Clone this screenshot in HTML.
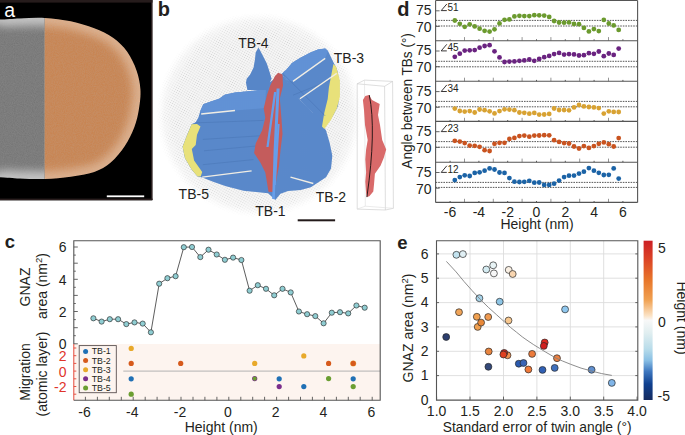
<!DOCTYPE html>
<html><head><meta charset="utf-8"><style>html,body{margin:0;padding:0;background:#fff;}svg{display:block;}</style></head>
<body><svg width="685" height="435" viewBox="0 0 685 435">
<rect width="685" height="435" fill="#fff"/>
<rect x="0" y="0" width="152.2" height="200.3" fill="#000"/>
<rect x="0" y="0" width="152.5" height="2.6" fill="#261c1c"/>
<rect x="151" y="0" width="1.5" height="200" fill="#2a1e1e"/>
<rect x="0" y="198.6" width="152.5" height="1.6" fill="#2a1e1e"/>
<defs><clipPath id="pa"><path d="M-40.0,20.5 C-33.7,-5.7 -12.0,20.0 -2.0,19.6 C8.0,19.2 12.2,18.7 20.0,18.4 C27.8,18.1 36.3,17.4 44.8,17.9 C53.2,18.4 62.5,19.5 70.7,21.2 C78.9,22.9 87.2,25.6 94.2,28.3 C101.2,31.1 107.5,33.8 113.0,37.7 C118.5,41.6 123.3,46.3 127.2,51.8 C131.1,57.3 134.4,64.4 136.6,70.7 C138.8,77.0 140.0,83.2 140.4,89.5 C140.8,95.8 140.0,102.1 139.0,108.4 C138.0,114.7 136.7,120.9 134.3,127.2 C131.9,133.5 128.7,140.1 124.8,146.0 C120.9,151.9 115.8,158.2 110.7,162.5 C105.6,166.8 100.9,169.6 94.2,172.0 C87.5,174.4 78.9,175.5 70.7,176.7 C62.5,177.9 53.2,178.7 44.8,179.0 C36.3,179.3 27.8,178.8 20.0,178.5 C12.2,178.2 8.0,177.5 -2.0,177.2 C-12.0,176.9 -33.7,202.6 -40.0,176.5 C-46.3,150.4 -46.3,46.7 -40.0,20.5 Z"/></clipPath>
<clipPath id="pag"><rect x="-5" y="0" width="49.8" height="200"/></clipPath>
<clipPath id="pao"><rect x="44.8" y="0" width="110" height="200"/></clipPath>
<filter id="bl5" x="-0.2" y="-0.2" width="1.4" height="1.4"><feGaussianBlur stdDeviation="4.5"/></filter>
<filter id="bl1" x="-0.1" y="-0.1" width="1.2" height="1.2"><feGaussianBlur stdDeviation="0.7"/></filter>
<filter id="noise" x="0" y="0" width="1" height="1"><feTurbulence type="fractalNoise" baseFrequency="0.9 0.9" numOctaves="2" seed="3"/><feColorMatrix type="matrix" values="0 0 0 0 0.5  0 0 0 0 0.5  0 0 0 0 0.5  1.2 0 0 0 -0.1"/></filter>
</defs>
<g filter="url(#bl1)"><g clip-path="url(#pa)">
<g clip-path="url(#pag)"><rect x="-5" y="10" width="60" height="180" fill="#c4c4c4"/><path d="M-33.9,25.7 C-27.9,1.6 -7.0,26.2 2.4,26.3 C11.9,26.3 15.7,25.9 22.8,25.9 C30.0,25.8 37.7,25.4 45.3,25.9 C53.0,26.4 61.2,27.4 68.6,28.9 C76.1,30.5 83.5,32.7 89.9,35.1 C96.3,37.4 102.2,39.8 107.2,43.2 C112.3,46.7 116.7,50.9 120.3,55.9 C124.0,60.9 127.0,67.4 129.0,73.1 C131.0,78.8 132.1,84.5 132.4,90.2 C132.8,96.0 132.0,101.7 131.1,107.5 C130.1,113.2 128.9,118.9 126.7,124.6 C124.6,130.3 121.7,136.3 118.1,141.7 C114.5,147.0 109.9,152.8 105.2,156.7 C100.6,160.6 96.2,163.1 90.1,165.1 C84.0,167.2 76.1,168.0 68.7,169.0 C61.2,169.9 53.0,170.7 45.3,171.0 C37.7,171.4 29.9,171.1 22.8,171.0 C15.6,170.9 11.9,170.5 2.4,170.5 C-7.1,170.6 -27.9,195.4 -34.0,171.2 C-40.0,147.1 -40.0,49.9 -33.9,25.7 Z" fill="#747474" filter="url(#bl5)"/></g>
<g clip-path="url(#pao)"><rect x="40" y="10" width="110" height="180" fill="#dfae88"/><path d="M-33.9,25.7 C-27.9,1.6 -7.0,26.2 2.4,26.3 C11.9,26.3 15.7,25.9 22.8,25.9 C30.0,25.8 37.7,25.4 45.3,25.9 C53.0,26.4 61.2,27.4 68.6,28.9 C76.1,30.5 83.5,32.7 89.9,35.1 C96.3,37.4 102.2,39.8 107.2,43.2 C112.3,46.7 116.7,50.9 120.3,55.9 C124.0,60.9 127.0,67.4 129.0,73.1 C131.0,78.8 132.1,84.5 132.4,90.2 C132.8,96.0 132.0,101.7 131.1,107.5 C130.1,113.2 128.9,118.9 126.7,124.6 C124.6,130.3 121.7,136.3 118.1,141.7 C114.5,147.0 109.9,152.8 105.2,156.7 C100.6,160.6 96.2,163.1 90.1,165.1 C84.0,167.2 76.1,168.0 68.7,169.0 C61.2,169.9 53.0,170.7 45.3,171.0 C37.7,171.4 29.9,171.1 22.8,171.0 C15.6,170.9 11.9,170.5 2.4,170.5 C-7.1,170.6 -27.9,195.4 -34.0,171.2 C-40.0,147.1 -40.0,49.9 -33.9,25.7 Z" fill="#c9834f" filter="url(#bl5)"/></g>
<rect x="0" y="10" width="150" height="180" filter="url(#noise)" opacity="0.22"/>
</g></g>
<text x="4.3" y="16.5" font-family="Liberation Sans, sans-serif" font-size="19.5" fill="#fff">a</text>
<rect x="106.8" y="195.4" width="37.4" height="1.8" fill="#fff"/>
<text x="157.8" y="16.3" font-family="Liberation Sans, sans-serif" font-size="20" font-weight="bold" fill="#231f20">b</text>
<defs><radialGradient id="cloud" gradientUnits="userSpaceOnUse" cx="259" cy="115" r="103"><stop offset="0" stop-color="#eeeeee"/><stop offset="0.8" stop-color="#efefef"/><stop offset="0.92" stop-color="#f4f4f4"/><stop offset="1" stop-color="#fff" stop-opacity="0"/></radialGradient></defs>
<defs><pattern id="speck" width="2.3" height="2.3" patternUnits="userSpaceOnUse" patternTransform="rotate(30)"><rect width="2.3" height="2.3" fill="#fff" fill-opacity="0"/><circle cx="1.15" cy="1.15" r="0.62" fill="#9a9a9a"/></pattern><radialGradient id="cmask" gradientUnits="userSpaceOnUse" cx="259" cy="115" r="103"><stop offset="0" stop-color="#fff" stop-opacity="0.75"/><stop offset="0.85" stop-color="#fff" stop-opacity="0.6"/><stop offset="1" stop-color="#fff" stop-opacity="0"/></radialGradient><mask id="cm"><circle cx="259" cy="115" r="103" fill="url(#cmask)"/></mask></defs>
<circle cx="259" cy="115" r="103" fill="url(#cloud)" opacity="0.55"/>
<rect x="150" y="5" width="218" height="220" fill="url(#speck)" mask="url(#cm)" opacity="0.6"/>
<path d="M200.5,110.5 L203.3,104.3 L210.9,101.6 L219.1,98.8 L224.7,94.7 L235,92.6 L245.9,91.5 L257.4,90.3 L266.6,84.6 L281.7,73.7 L300,100 L308.2,107.6 L318.4,119 L326,130.4 L329.7,143 L332.3,155.7 L331,168.4 L326,177.2 L318.4,182.3 L310.8,187.3 L300.6,189.9 L288,191.1 L280.4,193.7 L275.3,200 L268.1,193.3 L261.1,192.4 L243.6,190.7 L226.1,186.3 L213.8,181.9 L202.4,177.5 L197.6,176.6 L191.8,169.7 L185,158.2 L182.6,146.7 L186.1,137.5 L191.6,124.3 L195.7,122.2 L198.4,117.4 Z" fill="#5888cb"/>
<path d="M200.5,110.5 L203.3,104.3 L210.9,101.6 L219.1,98.8 L224.7,94.7 L235,92.6 L245.9,91.5 L257.4,90.3 L266,89 L265,108 L235,110.5 L201.2,114 Z" fill="#6193d8"/>
<path d="M281.7,73.7 L286.1,69.9 L292,63 L300,58 L310.5,52.5 L318,49.5 L325.2,48.6 L328,51 L331.1,57.6 L333.4,62.2 L336.9,69.1 L339.2,80.6 L339.2,94.4 L338,105.9 L333.4,115.1 L326.6,124.3 L322,128.9 L312,112 L295,95 Z" fill="#5888cb"/>
<path d="M283.5,72 L286.1,69.9 L292,63 L300,58 L310.5,52.5 L318,49.5 L325.2,48.6 L328,51 L325.2,58.4 L293,81.4 L286,80 Z" fill="#6193d8"/>
<path d="M258.5,47.6 L262.6,55.2 L266.8,63.5 L269.5,71.8 L271.6,78.7 L270.2,81.4 L268,90 L247.4,90 L246,82.8 L246.7,78.7 L250.2,74.5 L253.6,67.6 L255,59.3 L255.7,52.4 Z" fill="#5585c8"/>
<defs><pattern id="vox" width="1.9" height="1.9" patternUnits="userSpaceOnUse"><rect width="1.9" height="1.9" fill="#2c4f86"/><circle cx="0.95" cy="0.95" r="0.85" fill="#7aa6e6"/></pattern><clipPath id="slabclip"><path d="M200.5,110.5 L203.3,104.3 L210.9,101.6 L219.1,98.8 L224.7,94.7 L235,92.6 L245.9,91.5 L257.4,90.3 L266.6,84.6 L281.7,73.7 L300,100 L308.2,107.6 L318.4,119 L326,130.4 L329.7,143 L332.3,155.7 L331,168.4 L326,177.2 L318.4,182.3 L310.8,187.3 L300.6,189.9 L288,191.1 L280.4,193.7 L275.3,200 L268.1,193.3 L261.1,192.4 L243.6,190.7 L226.1,186.3 L213.8,181.9 L202.4,177.5 L197.6,176.6 L191.8,169.7 L185,158.2 L182.6,146.7 L186.1,137.5 L191.6,124.3 L195.7,122.2 L198.4,117.4 Z"/><path d="M281.7,73.7 L286.1,69.9 L292,63 L300,58 L310.5,52.5 L318,49.5 L325.2,48.6 L328,51 L331.1,57.6 L333.4,62.2 L336.9,69.1 L339.2,80.6 L339.2,94.4 L338,105.9 L333.4,115.1 L326.6,124.3 L322,128.9 L312,112 L295,95 Z"/><path d="M258.5,47.6 L262.6,55.2 L266.8,63.5 L269.5,71.8 L271.6,78.7 L270.2,81.4 L268,90 L247.4,90 L246,82.8 L246.7,78.7 L250.2,74.5 L253.6,67.6 L255,59.3 L255.7,52.4 Z"/></clipPath></defs>
<rect x="180" y="45" width="162" height="160" fill="url(#vox)" clip-path="url(#slabclip)" opacity="0.16"/>
<path d="M191.6,124.3 L186.1,137.5 L182.6,146.7 L185,158.2 L191.8,169.7 L197.6,176.6 L200.7,176.6 L202.2,172 L194.1,160.5 L191.8,149 L195.7,145 L197,134.7 L200.5,126.4 L197,124 Z" fill="#e8e17a"/>
<path d="M333.4,64 L336.2,66.8 L339.9,80.6 L339.9,96.7 L336.9,108.2 L331.1,119.7 L324.3,128.9 L322,126.6 L324.3,112.8 L327.7,99 L328.9,87.5 L331.1,76 Z" fill="#e8e17a"/>
<line x1="195.2" y1="122.9" x2="263.5" y2="120.4" stroke="#4a76b6" stroke-width="0.9" opacity="0.6"/>
<line x1="202.8" y1="139.4" x2="263.5" y2="135.6" stroke="#4a76b6" stroke-width="0.9" opacity="0.6"/>
<line x1="204" y1="150.8" x2="256" y2="146" stroke="#4a76b6" stroke-width="0.9" opacity="0.6"/>
<line x1="202.8" y1="164.7" x2="253.4" y2="159.6" stroke="#4a76b6" stroke-width="0.9" opacity="0.6"/>
<line x1="283.8" y1="74.5" x2="325.2" y2="115.9" stroke="#4a76b6" stroke-width="0.9" opacity="0.6"/>
<line x1="293" y1="95.2" x2="330" y2="80" stroke="#4a76b6" stroke-width="0.9" opacity="0.6"/>
<path d="M278.2,72.8 L275,76 L270.1,85.7 L266.9,95.3 L263.7,108.2 L265.3,117.8 L262.1,130.6 L255.7,143.5 L254.1,153.1 L260.5,162.8 L265.3,172.4 L266.9,182 L268.5,191.7 L273,192 L276,182 L279,166 L280.5,150 L282.5,134 L281.4,117.8 L279.8,98.5 L283,85.7 L282.5,74.5 Z" fill="#c45c5c"/>
<path d="M276.6,88.5 L279.6,88.5 L276.6,150 L274.8,199 L272.2,199 L273.6,150 Z" fill="#669eea"/>
<path d="M274,92 L276.4,92 L268.6,147 L266.4,147 Z" fill="#669eea"/>
<path d="M277.6,124 L279.6,124 L275.8,185 L273.8,185 Z" fill="#669eea"/>
<line x1="201.2" y1="114" x2="235" y2="110.5" stroke="#f0ede4" stroke-width="1.3"/>
<line x1="202.2" y1="177.2" x2="251.6" y2="170.8" stroke="#f0ede4" stroke-width="1.3"/>
<line x1="293" y1="81.4" x2="325.2" y2="58.4" stroke="#f0ede4" stroke-width="1.3"/>
<line x1="299.9" y1="98.7" x2="336.7" y2="73.4" stroke="#f0ede4" stroke-width="1.3"/>
<line x1="290.5" y1="177.2" x2="313.3" y2="183.5" stroke="#f0ede4" stroke-width="1.3"/>
<text x="238.3" y="47.9" font-family="Liberation Sans, sans-serif" font-size="14" fill="#231f20">TB-4</text>
<text x="333.8" y="63.2" font-family="Liberation Sans, sans-serif" font-size="14" fill="#231f20">TB-3</text>
<text x="178.6" y="198.9" font-family="Liberation Sans, sans-serif" font-size="14" fill="#231f20">TB-5</text>
<text x="255.3" y="215.7" font-family="Liberation Sans, sans-serif" font-size="14" fill="#231f20">TB-1</text>
<text x="315.8" y="202.4" font-family="Liberation Sans, sans-serif" font-size="14" fill="#231f20">TB-2</text>
<g fill="none" stroke="#c8c8c8" stroke-width="0.6"><path d="M357.2,83.8 L364.5,80.1 L392.6,81.4 L384.6,86.3 Z M357.2,83.8 L357.2,209.1 L385.4,210 L393.4,208.3 L392.6,81.4 M384.6,86.3 L385.4,210"/><path d="M364.5,80.1 L365.3,206.2 L357.2,209.1 M365.3,206.2 L393.4,208.3" stroke="#dedede"/></g>
<path d="M365.3,95.9 L369,95 L372,100 L379.7,104 L378,115 L380,125 L382.2,140 L386.2,149.6 L383.8,157.7 L380.5,165.7 L374.9,173.8 L374.1,183.4 L373.3,191.4 L369.3,196.3 L366.9,197.1 L366.1,193 L365.3,181.8 L366.1,172.2 L365.3,159.3 L366.1,149.6 L367.7,140 L365,125 L364,110 L362.9,100 Z" fill="#d96a6a"/>
<path d="M369.3,95.1 Q376.5,130 366.9,197.1" fill="none" stroke="#1a1010" stroke-width="0.9"/>
<rect x="297.7" y="219.3" width="37.4" height="2" fill="#231a1a"/>
<rect x="73.8" y="344.0" width="306.4" height="56.30000000000001" fill="#fdf4ef"/>
<line x1="123.3" y1="371.1" x2="380.2" y2="371.1" stroke="#aaa" stroke-width="0.9"/>
<line x1="73.8" y1="343.8" x2="77.8" y2="343.8" stroke="#555" stroke-width="0.9"/>
<line x1="73.8" y1="335.7" x2="75.8" y2="335.7" stroke="#555" stroke-width="0.9"/>
<line x1="73.8" y1="327.7" x2="77.8" y2="327.7" stroke="#555" stroke-width="0.9"/>
<line x1="73.8" y1="319.6" x2="75.8" y2="319.6" stroke="#555" stroke-width="0.9"/>
<line x1="73.8" y1="311.5" x2="77.8" y2="311.5" stroke="#555" stroke-width="0.9"/>
<line x1="73.8" y1="303.5" x2="75.8" y2="303.5" stroke="#555" stroke-width="0.9"/>
<line x1="73.8" y1="295.4" x2="77.8" y2="295.4" stroke="#555" stroke-width="0.9"/>
<line x1="73.8" y1="287.3" x2="75.8" y2="287.3" stroke="#555" stroke-width="0.9"/>
<line x1="73.8" y1="279.3" x2="77.8" y2="279.3" stroke="#555" stroke-width="0.9"/>
<line x1="73.8" y1="271.2" x2="75.8" y2="271.2" stroke="#555" stroke-width="0.9"/>
<line x1="73.8" y1="263.2" x2="77.8" y2="263.2" stroke="#555" stroke-width="0.9"/>
<line x1="73.8" y1="255.1" x2="75.8" y2="255.1" stroke="#555" stroke-width="0.9"/>
<line x1="73.8" y1="247.0" x2="77.8" y2="247.0" stroke="#555" stroke-width="0.9"/>
<text x="66.5" y="349.0" font-family="Liberation Sans, sans-serif" font-size="14" fill="#231f20" text-anchor="end">0</text>
<text x="66.5" y="316.7" font-family="Liberation Sans, sans-serif" font-size="14" fill="#231f20" text-anchor="end">2</text>
<text x="66.5" y="284.5" font-family="Liberation Sans, sans-serif" font-size="14" fill="#231f20" text-anchor="end">4</text>
<text x="66.5" y="252.2" font-family="Liberation Sans, sans-serif" font-size="14" fill="#231f20" text-anchor="end">6</text>
<line x1="73.8" y1="394.2" x2="76.3" y2="394.2" stroke="#e03a2a" stroke-width="0.85"/>
<line x1="73.8" y1="386.5" x2="76.3" y2="386.5" stroke="#e03a2a" stroke-width="0.85"/>
<line x1="73.8" y1="378.8" x2="76.3" y2="378.8" stroke="#e03a2a" stroke-width="0.85"/>
<line x1="73.8" y1="371.1" x2="76.3" y2="371.1" stroke="#e03a2a" stroke-width="0.85"/>
<line x1="73.8" y1="363.4" x2="76.3" y2="363.4" stroke="#e03a2a" stroke-width="0.85"/>
<line x1="73.8" y1="355.7" x2="76.3" y2="355.7" stroke="#e03a2a" stroke-width="0.85"/>
<line x1="73.8" y1="348.0" x2="76.3" y2="348.0" stroke="#e03a2a" stroke-width="0.85"/>
<line x1="73.8" y1="344.0" x2="73.8" y2="400.3" stroke="#e4483a" stroke-width="1"/>
<text x="66.5" y="361.3" font-family="Liberation Sans, sans-serif" font-size="14" fill="#e0342a" text-anchor="end">2</text>
<text x="66.5" y="376.7" font-family="Liberation Sans, sans-serif" font-size="14" fill="#e0342a" text-anchor="end">0</text>
<text x="66.5" y="392.1" font-family="Liberation Sans, sans-serif" font-size="14" fill="#e0342a" text-anchor="end">-2</text>
<line x1="85.4" y1="400.3" x2="85.4" y2="396.8" stroke="#555" stroke-width="0.9"/>
<line x1="97.4" y1="400.3" x2="97.4" y2="396.8" stroke="#555" stroke-width="0.9"/>
<line x1="109.3" y1="400.3" x2="109.3" y2="396.8" stroke="#555" stroke-width="0.9"/>
<line x1="121.3" y1="400.3" x2="121.3" y2="396.8" stroke="#555" stroke-width="0.9"/>
<line x1="133.2" y1="400.3" x2="133.2" y2="396.8" stroke="#555" stroke-width="0.9"/>
<line x1="145.2" y1="400.3" x2="145.2" y2="396.8" stroke="#555" stroke-width="0.9"/>
<line x1="157.1" y1="400.3" x2="157.1" y2="396.8" stroke="#555" stroke-width="0.9"/>
<line x1="169.1" y1="400.3" x2="169.1" y2="396.8" stroke="#555" stroke-width="0.9"/>
<line x1="181.0" y1="400.3" x2="181.0" y2="396.8" stroke="#555" stroke-width="0.9"/>
<line x1="193.0" y1="400.3" x2="193.0" y2="396.8" stroke="#555" stroke-width="0.9"/>
<line x1="204.9" y1="400.3" x2="204.9" y2="396.8" stroke="#555" stroke-width="0.9"/>
<line x1="216.9" y1="400.3" x2="216.9" y2="396.8" stroke="#555" stroke-width="0.9"/>
<line x1="228.8" y1="400.3" x2="228.8" y2="396.8" stroke="#555" stroke-width="0.9"/>
<line x1="240.8" y1="400.3" x2="240.8" y2="396.8" stroke="#555" stroke-width="0.9"/>
<line x1="252.7" y1="400.3" x2="252.7" y2="396.8" stroke="#555" stroke-width="0.9"/>
<line x1="264.6" y1="400.3" x2="264.6" y2="396.8" stroke="#555" stroke-width="0.9"/>
<line x1="276.6" y1="400.3" x2="276.6" y2="396.8" stroke="#555" stroke-width="0.9"/>
<line x1="288.6" y1="400.3" x2="288.6" y2="396.8" stroke="#555" stroke-width="0.9"/>
<line x1="300.5" y1="400.3" x2="300.5" y2="396.8" stroke="#555" stroke-width="0.9"/>
<line x1="312.4" y1="400.3" x2="312.4" y2="396.8" stroke="#555" stroke-width="0.9"/>
<line x1="324.4" y1="400.3" x2="324.4" y2="396.8" stroke="#555" stroke-width="0.9"/>
<line x1="336.4" y1="400.3" x2="336.4" y2="396.8" stroke="#555" stroke-width="0.9"/>
<line x1="348.3" y1="400.3" x2="348.3" y2="396.8" stroke="#555" stroke-width="0.9"/>
<line x1="360.2" y1="400.3" x2="360.2" y2="396.8" stroke="#555" stroke-width="0.9"/>
<line x1="372.2" y1="400.3" x2="372.2" y2="396.8" stroke="#555" stroke-width="0.9"/>
<text x="84.5" y="417.3" font-family="Liberation Sans, sans-serif" font-size="14" fill="#231f20" text-anchor="middle">-6</text>
<text x="132.3" y="417.3" font-family="Liberation Sans, sans-serif" font-size="14" fill="#231f20" text-anchor="middle">-4</text>
<text x="180.1" y="417.3" font-family="Liberation Sans, sans-serif" font-size="14" fill="#231f20" text-anchor="middle">-2</text>
<text x="227.9" y="417.3" font-family="Liberation Sans, sans-serif" font-size="14" fill="#231f20" text-anchor="middle">0</text>
<text x="275.7" y="417.3" font-family="Liberation Sans, sans-serif" font-size="14" fill="#231f20" text-anchor="middle">2</text>
<text x="323.5" y="417.3" font-family="Liberation Sans, sans-serif" font-size="14" fill="#231f20" text-anchor="middle">4</text>
<text x="371.3" y="417.3" font-family="Liberation Sans, sans-serif" font-size="14" fill="#231f20" text-anchor="middle">6</text>
<text x="221.2" y="432.2" font-family="Liberation Sans, sans-serif" font-size="14" fill="#231f20" text-anchor="middle">Height (nm)</text>
<path d="M73.8,344.0 L73.8,240.8 L380.2,240.8 L380.2,400.3 L73.8,400.3" fill="none" stroke="#555" stroke-width="1.1"/>
<polyline points="93.4,318.3 101.6,321.6 109.8,319.2 118.1,319.2 126.3,324.1 134.5,322.4 142.7,323.6 150.9,332.3 159.2,283.7 167.4,278.2 175.6,276.2 183.8,247.2 192.0,247.0 200.3,257.1 208.5,249.7 216.7,254.5 224.9,259.8 233.1,257.6 241.4,260.0 249.6,290.7 257.8,285.2 266.0,288.8 274.2,295.3 282.5,288.8 290.7,292.4 298.9,311.5 307.1,314.2 315.3,316.1 323.6,323.3 331.8,312.7 340.0,312.2 348.2,313.4 356.4,305.5 364.7,307.7" fill="none" stroke="#333" stroke-width="0.8"/>
<circle cx="93.4" cy="318.3" r="2.6" fill="#8fcdd2" stroke="#2a2a2a" stroke-width="0.65"/>
<circle cx="101.6" cy="321.6" r="2.6" fill="#8fcdd2" stroke="#2a2a2a" stroke-width="0.65"/>
<circle cx="109.8" cy="319.2" r="2.6" fill="#8fcdd2" stroke="#2a2a2a" stroke-width="0.65"/>
<circle cx="118.1" cy="319.2" r="2.6" fill="#8fcdd2" stroke="#2a2a2a" stroke-width="0.65"/>
<circle cx="126.3" cy="324.1" r="2.6" fill="#8fcdd2" stroke="#2a2a2a" stroke-width="0.65"/>
<circle cx="134.5" cy="322.4" r="2.6" fill="#8fcdd2" stroke="#2a2a2a" stroke-width="0.65"/>
<circle cx="142.7" cy="323.6" r="2.6" fill="#8fcdd2" stroke="#2a2a2a" stroke-width="0.65"/>
<circle cx="150.9" cy="332.3" r="2.6" fill="#8fcdd2" stroke="#2a2a2a" stroke-width="0.65"/>
<circle cx="159.2" cy="283.7" r="2.6" fill="#8fcdd2" stroke="#2a2a2a" stroke-width="0.65"/>
<circle cx="167.4" cy="278.2" r="2.6" fill="#8fcdd2" stroke="#2a2a2a" stroke-width="0.65"/>
<circle cx="175.6" cy="276.2" r="2.6" fill="#8fcdd2" stroke="#2a2a2a" stroke-width="0.65"/>
<circle cx="183.8" cy="247.2" r="2.6" fill="#8fcdd2" stroke="#2a2a2a" stroke-width="0.65"/>
<circle cx="192.0" cy="247.0" r="2.6" fill="#8fcdd2" stroke="#2a2a2a" stroke-width="0.65"/>
<circle cx="200.3" cy="257.1" r="2.6" fill="#8fcdd2" stroke="#2a2a2a" stroke-width="0.65"/>
<circle cx="208.5" cy="249.7" r="2.6" fill="#8fcdd2" stroke="#2a2a2a" stroke-width="0.65"/>
<circle cx="216.7" cy="254.5" r="2.6" fill="#8fcdd2" stroke="#2a2a2a" stroke-width="0.65"/>
<circle cx="224.9" cy="259.8" r="2.6" fill="#8fcdd2" stroke="#2a2a2a" stroke-width="0.65"/>
<circle cx="233.1" cy="257.6" r="2.6" fill="#8fcdd2" stroke="#2a2a2a" stroke-width="0.65"/>
<circle cx="241.4" cy="260.0" r="2.6" fill="#8fcdd2" stroke="#2a2a2a" stroke-width="0.65"/>
<circle cx="249.6" cy="290.7" r="2.6" fill="#8fcdd2" stroke="#2a2a2a" stroke-width="0.65"/>
<circle cx="257.8" cy="285.2" r="2.6" fill="#8fcdd2" stroke="#2a2a2a" stroke-width="0.65"/>
<circle cx="266.0" cy="288.8" r="2.6" fill="#8fcdd2" stroke="#2a2a2a" stroke-width="0.65"/>
<circle cx="274.2" cy="295.3" r="2.6" fill="#8fcdd2" stroke="#2a2a2a" stroke-width="0.65"/>
<circle cx="282.5" cy="288.8" r="2.6" fill="#8fcdd2" stroke="#2a2a2a" stroke-width="0.65"/>
<circle cx="290.7" cy="292.4" r="2.6" fill="#8fcdd2" stroke="#2a2a2a" stroke-width="0.65"/>
<circle cx="298.9" cy="311.5" r="2.6" fill="#8fcdd2" stroke="#2a2a2a" stroke-width="0.65"/>
<circle cx="307.1" cy="314.2" r="2.6" fill="#8fcdd2" stroke="#2a2a2a" stroke-width="0.65"/>
<circle cx="315.3" cy="316.1" r="2.6" fill="#8fcdd2" stroke="#2a2a2a" stroke-width="0.65"/>
<circle cx="323.6" cy="323.3" r="2.6" fill="#8fcdd2" stroke="#2a2a2a" stroke-width="0.65"/>
<circle cx="331.8" cy="312.7" r="2.6" fill="#8fcdd2" stroke="#2a2a2a" stroke-width="0.65"/>
<circle cx="340.0" cy="312.2" r="2.6" fill="#8fcdd2" stroke="#2a2a2a" stroke-width="0.65"/>
<circle cx="348.2" cy="313.4" r="2.6" fill="#8fcdd2" stroke="#2a2a2a" stroke-width="0.65"/>
<circle cx="356.4" cy="305.5" r="2.6" fill="#8fcdd2" stroke="#2a2a2a" stroke-width="0.65"/>
<circle cx="364.7" cy="307.7" r="2.6" fill="#8fcdd2" stroke="#2a2a2a" stroke-width="0.65"/>
<circle cx="353.2" cy="363.4" r="3.0" fill="#e8a92a" opacity="0.8"/>
<circle cx="131.2" cy="348.4" r="2.6" fill="#e8a92a"/>
<circle cx="131.2" cy="363.4" r="2.6" fill="#d65a1c"/>
<circle cx="131.2" cy="378.8" r="2.6" fill="#2070b5"/>
<circle cx="131.2" cy="394.2" r="2.6" fill="#6b9e32"/>
<circle cx="180.7" cy="363.4" r="2.6" fill="#d65a1c"/>
<circle cx="254.7" cy="363.4" r="2.6" fill="#e8a92a"/>
<circle cx="254.7" cy="378.6" r="2.6" fill="#7b2d8c"/>
<circle cx="279.2" cy="378.8" r="2.6" fill="#2070b5"/>
<circle cx="279.2" cy="386.6" r="2.6" fill="#7b2d8c"/>
<circle cx="303.8" cy="355.9" r="2.6" fill="#e8a92a"/>
<circle cx="303.8" cy="386.6" r="2.6" fill="#2070b5"/>
<circle cx="328.6" cy="363.4" r="2.6" fill="#d65a1c"/>
<circle cx="328.6" cy="378.6" r="2.6" fill="#6b9e32"/>
<circle cx="353.2" cy="363.4" r="2.6" fill="#d65a1c"/>
<circle cx="353.2" cy="378.8" r="2.6" fill="#2070b5"/>
<circle cx="353.2" cy="386.6" r="2.6" fill="#6b9e32"/>
<circle cx="254.7" cy="378.6" r="2.05" fill="#6b9e32"/>
<rect x="79.2" y="345.6" width="37.1" height="47.1" fill="#fdf4ef" stroke="#5a5050" stroke-width="0.9"/>
<circle cx="85.6" cy="351.4" r="2.5" fill="#2070b5"/>
<text x="91.7" y="354.4" font-family="Liberation Sans, sans-serif" font-size="8.8" fill="#231f20">TB-1</text>
<circle cx="85.6" cy="360.5" r="2.5" fill="#d65a1c"/>
<text x="91.7" y="363.5" font-family="Liberation Sans, sans-serif" font-size="8.8" fill="#231f20">TB-2</text>
<circle cx="85.6" cy="369.7" r="2.5" fill="#e8a92a"/>
<text x="91.7" y="372.7" font-family="Liberation Sans, sans-serif" font-size="8.8" fill="#231f20">TB-3</text>
<circle cx="85.6" cy="378.8" r="2.5" fill="#7b2d8c"/>
<text x="91.7" y="381.8" font-family="Liberation Sans, sans-serif" font-size="8.8" fill="#231f20">TB-4</text>
<circle cx="85.6" cy="388.0" r="2.5" fill="#6b9e32"/>
<text x="91.7" y="391.0" font-family="Liberation Sans, sans-serif" font-size="8.8" fill="#231f20">TB-5</text>
<text transform="translate(30,287) rotate(-90)" font-family="Liberation Sans, sans-serif" font-size="14" fill="#231f20" text-anchor="middle">GNAZ</text>
<text transform="translate(47,286) rotate(-90)" font-family="Liberation Sans, sans-serif" font-size="14" fill="#231f20" text-anchor="middle">area (nm<tspan font-size="9.5" dy="-5">2</tspan><tspan dy="5">)</tspan></text>
<text transform="translate(30,372) rotate(-90)" font-family="Liberation Sans, sans-serif" font-size="14" fill="#231f20" text-anchor="middle">Migration</text>
<text transform="translate(47,374) rotate(-90)" font-family="Liberation Sans, sans-serif" font-size="14" fill="#231f20" text-anchor="middle">(atomic layer)</text>
<text x="4.8" y="248.2" font-family="Liberation Sans, sans-serif" font-size="18.5" font-weight="bold" fill="#231f20">c</text>
<rect x="435.6" y="0.45" width="202.0" height="201.95000000000002" fill="#fff"/>
<line x1="435.6" y1="20.4" x2="637.6" y2="20.4" stroke="#3a3a3a" stroke-width="0.85" stroke-dasharray="1.6 1.0"/>
<line x1="435.6" y1="26.0" x2="637.6" y2="26.0" stroke="#3a3a3a" stroke-width="0.85" stroke-dasharray="1.6 1.0"/>
<line x1="435.6" y1="10.8" x2="439.6" y2="10.8" stroke="#555" stroke-width="0.9"/>
<line x1="435.6" y1="26.4" x2="439.6" y2="26.4" stroke="#555" stroke-width="0.9"/>
<line x1="450.1" y1="40.7" x2="450.1" y2="39.3" stroke="#444" stroke-width="0.9"/>
<line x1="464.5" y1="40.7" x2="464.5" y2="37.1" stroke="#8a8a8a" stroke-width="0.9"/>
<line x1="478.9" y1="40.7" x2="478.9" y2="39.3" stroke="#444" stroke-width="0.9"/>
<line x1="493.3" y1="40.7" x2="493.3" y2="37.1" stroke="#8a8a8a" stroke-width="0.9"/>
<line x1="507.7" y1="40.7" x2="507.7" y2="39.3" stroke="#444" stroke-width="0.9"/>
<line x1="522.1" y1="40.7" x2="522.1" y2="37.1" stroke="#8a8a8a" stroke-width="0.9"/>
<line x1="536.5" y1="40.7" x2="536.5" y2="39.3" stroke="#444" stroke-width="0.9"/>
<line x1="550.9" y1="40.7" x2="550.9" y2="37.1" stroke="#8a8a8a" stroke-width="0.9"/>
<line x1="565.3" y1="40.7" x2="565.3" y2="39.3" stroke="#444" stroke-width="0.9"/>
<line x1="579.7" y1="40.7" x2="579.7" y2="37.1" stroke="#8a8a8a" stroke-width="0.9"/>
<line x1="594.1" y1="40.7" x2="594.1" y2="39.3" stroke="#444" stroke-width="0.9"/>
<line x1="608.5" y1="40.7" x2="608.5" y2="37.1" stroke="#8a8a8a" stroke-width="0.9"/>
<line x1="622.9" y1="40.7" x2="622.9" y2="39.3" stroke="#444" stroke-width="0.9"/>
<circle cx="454.8" cy="20.5" r="2.4" fill="#6b9a2e"/>
<circle cx="459.8" cy="23.8" r="2.4" fill="#6b9a2e"/>
<circle cx="464.7" cy="26.8" r="2.4" fill="#6b9a2e"/>
<circle cx="469.7" cy="24.3" r="2.4" fill="#6b9a2e"/>
<circle cx="474.7" cy="26.4" r="2.4" fill="#6b9a2e"/>
<circle cx="479.6" cy="28.7" r="2.4" fill="#6b9a2e"/>
<circle cx="484.6" cy="30.8" r="2.4" fill="#6b9a2e"/>
<circle cx="489.6" cy="31.6" r="2.4" fill="#6b9a2e"/>
<circle cx="494.5" cy="29.3" r="2.4" fill="#6b9a2e"/>
<circle cx="499.5" cy="23.4" r="2.4" fill="#6b9a2e"/>
<circle cx="504.5" cy="19.8" r="2.4" fill="#6b9a2e"/>
<circle cx="509.4" cy="19.4" r="2.4" fill="#6b9a2e"/>
<circle cx="514.4" cy="16.4" r="2.4" fill="#6b9a2e"/>
<circle cx="519.4" cy="15.8" r="2.4" fill="#6b9a2e"/>
<circle cx="524.3" cy="16.1" r="2.4" fill="#6b9a2e"/>
<circle cx="529.3" cy="16.1" r="2.4" fill="#6b9a2e"/>
<circle cx="534.3" cy="15.2" r="2.4" fill="#6b9a2e"/>
<circle cx="539.2" cy="15.3" r="2.4" fill="#6b9a2e"/>
<circle cx="544.2" cy="15.6" r="2.4" fill="#6b9a2e"/>
<circle cx="549.2" cy="16.9" r="2.4" fill="#6b9a2e"/>
<circle cx="554.1" cy="21.0" r="2.4" fill="#6b9a2e"/>
<circle cx="559.1" cy="22.5" r="2.4" fill="#6b9a2e"/>
<circle cx="564.1" cy="22.7" r="2.4" fill="#6b9a2e"/>
<circle cx="569.0" cy="22.4" r="2.4" fill="#6b9a2e"/>
<circle cx="574.0" cy="23.9" r="2.4" fill="#6b9a2e"/>
<circle cx="579.0" cy="24.2" r="2.4" fill="#6b9a2e"/>
<circle cx="583.9" cy="27.9" r="2.4" fill="#6b9a2e"/>
<circle cx="588.9" cy="31.4" r="2.4" fill="#6b9a2e"/>
<circle cx="593.9" cy="29.1" r="2.4" fill="#6b9a2e"/>
<circle cx="598.8" cy="31.1" r="2.4" fill="#6b9a2e"/>
<circle cx="603.8" cy="19.9" r="2.4" fill="#6b9a2e"/>
<circle cx="608.8" cy="23.5" r="2.4" fill="#6b9a2e"/>
<circle cx="613.7" cy="25.4" r="2.4" fill="#6b9a2e"/>
<circle cx="618.7" cy="29.9" r="2.4" fill="#6b9a2e"/>
<text x="431.5" y="14.9" font-family="Liberation Sans, sans-serif" font-size="14" fill="#231f20" text-anchor="end">75</text>
<text x="431.5" y="31.8" font-family="Liberation Sans, sans-serif" font-size="14" fill="#231f20" text-anchor="end">70</text>
<path d="M446.8,4.0 L441.2,10.6 L446.8,10.6" fill="none" stroke="#231f20" stroke-width="0.9"/>
<text x="447.4" y="10.9" font-family="Liberation Sans, sans-serif" font-size="10" fill="#231f20">51</text>
<line x1="435.6" y1="61.3" x2="637.6" y2="61.3" stroke="#3a3a3a" stroke-width="0.85" stroke-dasharray="1.6 1.0"/>
<line x1="435.6" y1="66.8" x2="637.6" y2="66.8" stroke="#3a3a3a" stroke-width="0.85" stroke-dasharray="1.6 1.0"/>
<line x1="435.6" y1="51.0" x2="439.6" y2="51.0" stroke="#555" stroke-width="0.9"/>
<line x1="435.6" y1="66.7" x2="439.6" y2="66.7" stroke="#555" stroke-width="0.9"/>
<line x1="450.1" y1="81.3" x2="450.1" y2="79.9" stroke="#444" stroke-width="0.9"/>
<line x1="464.5" y1="81.3" x2="464.5" y2="77.7" stroke="#8a8a8a" stroke-width="0.9"/>
<line x1="478.9" y1="81.3" x2="478.9" y2="79.9" stroke="#444" stroke-width="0.9"/>
<line x1="493.3" y1="81.3" x2="493.3" y2="77.7" stroke="#8a8a8a" stroke-width="0.9"/>
<line x1="507.7" y1="81.3" x2="507.7" y2="79.9" stroke="#444" stroke-width="0.9"/>
<line x1="522.1" y1="81.3" x2="522.1" y2="77.7" stroke="#8a8a8a" stroke-width="0.9"/>
<line x1="536.5" y1="81.3" x2="536.5" y2="79.9" stroke="#444" stroke-width="0.9"/>
<line x1="550.9" y1="81.3" x2="550.9" y2="77.7" stroke="#8a8a8a" stroke-width="0.9"/>
<line x1="565.3" y1="81.3" x2="565.3" y2="79.9" stroke="#444" stroke-width="0.9"/>
<line x1="579.7" y1="81.3" x2="579.7" y2="77.7" stroke="#8a8a8a" stroke-width="0.9"/>
<line x1="594.1" y1="81.3" x2="594.1" y2="79.9" stroke="#444" stroke-width="0.9"/>
<line x1="608.5" y1="81.3" x2="608.5" y2="77.7" stroke="#8a8a8a" stroke-width="0.9"/>
<line x1="622.9" y1="81.3" x2="622.9" y2="79.9" stroke="#444" stroke-width="0.9"/>
<circle cx="454.8" cy="56.8" r="2.4" fill="#6a2380"/>
<circle cx="459.8" cy="53.7" r="2.4" fill="#6a2380"/>
<circle cx="464.7" cy="50.6" r="2.4" fill="#6a2380"/>
<circle cx="469.7" cy="50.3" r="2.4" fill="#6a2380"/>
<circle cx="474.7" cy="50.1" r="2.4" fill="#6a2380"/>
<circle cx="479.6" cy="47.7" r="2.4" fill="#6a2380"/>
<circle cx="484.6" cy="46.0" r="2.4" fill="#6a2380"/>
<circle cx="489.6" cy="45.2" r="2.4" fill="#6a2380"/>
<circle cx="494.5" cy="51.3" r="2.4" fill="#6a2380"/>
<circle cx="499.5" cy="57.4" r="2.4" fill="#6a2380"/>
<circle cx="504.5" cy="62.0" r="2.4" fill="#6a2380"/>
<circle cx="509.4" cy="61.6" r="2.4" fill="#6a2380"/>
<circle cx="514.4" cy="61.4" r="2.4" fill="#6a2380"/>
<circle cx="519.4" cy="60.8" r="2.4" fill="#6a2380"/>
<circle cx="524.3" cy="60.4" r="2.4" fill="#6a2380"/>
<circle cx="529.3" cy="59.5" r="2.4" fill="#6a2380"/>
<circle cx="534.3" cy="60.8" r="2.4" fill="#6a2380"/>
<circle cx="539.2" cy="59.0" r="2.4" fill="#6a2380"/>
<circle cx="544.2" cy="57.2" r="2.4" fill="#6a2380"/>
<circle cx="549.2" cy="55.9" r="2.4" fill="#6a2380"/>
<circle cx="554.1" cy="54.1" r="2.4" fill="#6a2380"/>
<circle cx="559.1" cy="52.9" r="2.4" fill="#6a2380"/>
<circle cx="564.1" cy="54.6" r="2.4" fill="#6a2380"/>
<circle cx="569.0" cy="54.1" r="2.4" fill="#6a2380"/>
<circle cx="574.0" cy="54.4" r="2.4" fill="#6a2380"/>
<circle cx="579.0" cy="55.5" r="2.4" fill="#6a2380"/>
<circle cx="583.9" cy="55.2" r="2.4" fill="#6a2380"/>
<circle cx="588.9" cy="53.2" r="2.4" fill="#6a2380"/>
<circle cx="593.9" cy="53.8" r="2.4" fill="#6a2380"/>
<circle cx="598.8" cy="51.5" r="2.4" fill="#6a2380"/>
<circle cx="603.8" cy="56.2" r="2.4" fill="#6a2380"/>
<circle cx="608.8" cy="53.5" r="2.4" fill="#6a2380"/>
<circle cx="613.7" cy="54.9" r="2.4" fill="#6a2380"/>
<circle cx="618.7" cy="48.6" r="2.4" fill="#6a2380"/>
<text x="431.5" y="55.2" font-family="Liberation Sans, sans-serif" font-size="14" fill="#231f20" text-anchor="end">75</text>
<text x="431.5" y="72.0" font-family="Liberation Sans, sans-serif" font-size="14" fill="#231f20" text-anchor="end">70</text>
<path d="M446.8,44.3 L441.2,50.9 L446.8,50.9" fill="none" stroke="#231f20" stroke-width="0.9"/>
<text x="447.4" y="51.2" font-family="Liberation Sans, sans-serif" font-size="10" fill="#231f20">45</text>
<line x1="435.6" y1="101.4" x2="637.6" y2="101.4" stroke="#3a3a3a" stroke-width="0.85" stroke-dasharray="1.6 1.0"/>
<line x1="435.6" y1="106.8" x2="637.6" y2="106.8" stroke="#3a3a3a" stroke-width="0.85" stroke-dasharray="1.6 1.0"/>
<line x1="435.6" y1="91.6" x2="439.6" y2="91.6" stroke="#555" stroke-width="0.9"/>
<line x1="435.6" y1="107.3" x2="439.6" y2="107.3" stroke="#555" stroke-width="0.9"/>
<line x1="450.1" y1="121.4" x2="450.1" y2="120.0" stroke="#444" stroke-width="0.9"/>
<line x1="464.5" y1="121.4" x2="464.5" y2="117.8" stroke="#8a8a8a" stroke-width="0.9"/>
<line x1="478.9" y1="121.4" x2="478.9" y2="120.0" stroke="#444" stroke-width="0.9"/>
<line x1="493.3" y1="121.4" x2="493.3" y2="117.8" stroke="#8a8a8a" stroke-width="0.9"/>
<line x1="507.7" y1="121.4" x2="507.7" y2="120.0" stroke="#444" stroke-width="0.9"/>
<line x1="522.1" y1="121.4" x2="522.1" y2="117.8" stroke="#8a8a8a" stroke-width="0.9"/>
<line x1="536.5" y1="121.4" x2="536.5" y2="120.0" stroke="#444" stroke-width="0.9"/>
<line x1="550.9" y1="121.4" x2="550.9" y2="117.8" stroke="#8a8a8a" stroke-width="0.9"/>
<line x1="565.3" y1="121.4" x2="565.3" y2="120.0" stroke="#444" stroke-width="0.9"/>
<line x1="579.7" y1="121.4" x2="579.7" y2="117.8" stroke="#8a8a8a" stroke-width="0.9"/>
<line x1="594.1" y1="121.4" x2="594.1" y2="120.0" stroke="#444" stroke-width="0.9"/>
<line x1="608.5" y1="121.4" x2="608.5" y2="117.8" stroke="#8a8a8a" stroke-width="0.9"/>
<line x1="622.9" y1="121.4" x2="622.9" y2="120.0" stroke="#444" stroke-width="0.9"/>
<circle cx="454.8" cy="108.6" r="2.4" fill="#d8a232"/>
<circle cx="459.8" cy="111.0" r="2.4" fill="#d8a232"/>
<circle cx="464.7" cy="111.6" r="2.4" fill="#d8a232"/>
<circle cx="469.7" cy="111.1" r="2.4" fill="#d8a232"/>
<circle cx="474.7" cy="112.5" r="2.4" fill="#d8a232"/>
<circle cx="479.6" cy="109.5" r="2.4" fill="#d8a232"/>
<circle cx="484.6" cy="110.2" r="2.4" fill="#d8a232"/>
<circle cx="489.6" cy="111.3" r="2.4" fill="#d8a232"/>
<circle cx="494.5" cy="113.4" r="2.4" fill="#d8a232"/>
<circle cx="499.5" cy="111.1" r="2.4" fill="#d8a232"/>
<circle cx="504.5" cy="109.3" r="2.4" fill="#d8a232"/>
<circle cx="509.4" cy="109.6" r="2.4" fill="#d8a232"/>
<circle cx="514.4" cy="110.2" r="2.4" fill="#d8a232"/>
<circle cx="519.4" cy="112.5" r="2.4" fill="#d8a232"/>
<circle cx="524.3" cy="112.8" r="2.4" fill="#d8a232"/>
<circle cx="529.3" cy="113.7" r="2.4" fill="#d8a232"/>
<circle cx="534.3" cy="112.9" r="2.4" fill="#d8a232"/>
<circle cx="539.2" cy="114.6" r="2.4" fill="#d8a232"/>
<circle cx="544.2" cy="114.5" r="2.4" fill="#d8a232"/>
<circle cx="549.2" cy="113.9" r="2.4" fill="#d8a232"/>
<circle cx="554.1" cy="108.5" r="2.4" fill="#d8a232"/>
<circle cx="559.1" cy="110.0" r="2.4" fill="#d8a232"/>
<circle cx="564.1" cy="110.0" r="2.4" fill="#d8a232"/>
<circle cx="569.0" cy="110.3" r="2.4" fill="#d8a232"/>
<circle cx="574.0" cy="107.4" r="2.4" fill="#d8a232"/>
<circle cx="579.0" cy="105.0" r="2.4" fill="#d8a232"/>
<circle cx="583.9" cy="106.4" r="2.4" fill="#d8a232"/>
<circle cx="588.9" cy="107.0" r="2.4" fill="#d8a232"/>
<circle cx="593.9" cy="107.4" r="2.4" fill="#d8a232"/>
<circle cx="598.8" cy="108.1" r="2.4" fill="#d8a232"/>
<circle cx="603.8" cy="113.6" r="2.4" fill="#d8a232"/>
<circle cx="608.8" cy="111.3" r="2.4" fill="#d8a232"/>
<circle cx="613.7" cy="111.9" r="2.4" fill="#d8a232"/>
<circle cx="618.7" cy="112.0" r="2.4" fill="#d8a232"/>
<text x="431.5" y="95.8" font-family="Liberation Sans, sans-serif" font-size="14" fill="#231f20" text-anchor="end">75</text>
<text x="431.5" y="112.6" font-family="Liberation Sans, sans-serif" font-size="14" fill="#231f20" text-anchor="end">70</text>
<path d="M446.8,84.9 L441.2,91.5 L446.8,91.5" fill="none" stroke="#231f20" stroke-width="0.9"/>
<text x="447.4" y="91.8" font-family="Liberation Sans, sans-serif" font-size="10" fill="#231f20">34</text>
<line x1="435.6" y1="141.6" x2="637.6" y2="141.6" stroke="#3a3a3a" stroke-width="0.85" stroke-dasharray="1.6 1.0"/>
<line x1="435.6" y1="147.2" x2="637.6" y2="147.2" stroke="#3a3a3a" stroke-width="0.85" stroke-dasharray="1.6 1.0"/>
<line x1="435.6" y1="131.7" x2="439.6" y2="131.7" stroke="#555" stroke-width="0.9"/>
<line x1="435.6" y1="147.4" x2="439.6" y2="147.4" stroke="#555" stroke-width="0.9"/>
<line x1="450.1" y1="162.2" x2="450.1" y2="160.8" stroke="#444" stroke-width="0.9"/>
<line x1="464.5" y1="162.2" x2="464.5" y2="158.6" stroke="#8a8a8a" stroke-width="0.9"/>
<line x1="478.9" y1="162.2" x2="478.9" y2="160.8" stroke="#444" stroke-width="0.9"/>
<line x1="493.3" y1="162.2" x2="493.3" y2="158.6" stroke="#8a8a8a" stroke-width="0.9"/>
<line x1="507.7" y1="162.2" x2="507.7" y2="160.8" stroke="#444" stroke-width="0.9"/>
<line x1="522.1" y1="162.2" x2="522.1" y2="158.6" stroke="#8a8a8a" stroke-width="0.9"/>
<line x1="536.5" y1="162.2" x2="536.5" y2="160.8" stroke="#444" stroke-width="0.9"/>
<line x1="550.9" y1="162.2" x2="550.9" y2="158.6" stroke="#8a8a8a" stroke-width="0.9"/>
<line x1="565.3" y1="162.2" x2="565.3" y2="160.8" stroke="#444" stroke-width="0.9"/>
<line x1="579.7" y1="162.2" x2="579.7" y2="158.6" stroke="#8a8a8a" stroke-width="0.9"/>
<line x1="594.1" y1="162.2" x2="594.1" y2="160.8" stroke="#444" stroke-width="0.9"/>
<line x1="608.5" y1="162.2" x2="608.5" y2="158.6" stroke="#8a8a8a" stroke-width="0.9"/>
<line x1="622.9" y1="162.2" x2="622.9" y2="160.8" stroke="#444" stroke-width="0.9"/>
<circle cx="454.8" cy="140.8" r="2.4" fill="#c9531f"/>
<circle cx="459.8" cy="141.6" r="2.4" fill="#c9531f"/>
<circle cx="464.7" cy="143.1" r="2.4" fill="#c9531f"/>
<circle cx="469.7" cy="145.6" r="2.4" fill="#c9531f"/>
<circle cx="474.7" cy="145.8" r="2.4" fill="#c9531f"/>
<circle cx="479.6" cy="146.8" r="2.4" fill="#c9531f"/>
<circle cx="484.6" cy="150.2" r="2.4" fill="#c9531f"/>
<circle cx="489.6" cy="151.0" r="2.4" fill="#c9531f"/>
<circle cx="494.5" cy="143.8" r="2.4" fill="#c9531f"/>
<circle cx="499.5" cy="142.8" r="2.4" fill="#c9531f"/>
<circle cx="504.5" cy="142.8" r="2.4" fill="#c9531f"/>
<circle cx="509.4" cy="138.9" r="2.4" fill="#c9531f"/>
<circle cx="514.4" cy="137.9" r="2.4" fill="#c9531f"/>
<circle cx="519.4" cy="136.1" r="2.4" fill="#c9531f"/>
<circle cx="524.3" cy="135.6" r="2.4" fill="#c9531f"/>
<circle cx="529.3" cy="136.7" r="2.4" fill="#c9531f"/>
<circle cx="534.3" cy="135.6" r="2.4" fill="#c9531f"/>
<circle cx="539.2" cy="135.5" r="2.4" fill="#c9531f"/>
<circle cx="544.2" cy="135.2" r="2.4" fill="#c9531f"/>
<circle cx="549.2" cy="135.3" r="2.4" fill="#c9531f"/>
<circle cx="554.1" cy="140.2" r="2.4" fill="#c9531f"/>
<circle cx="559.1" cy="141.9" r="2.4" fill="#c9531f"/>
<circle cx="564.1" cy="143.1" r="2.4" fill="#c9531f"/>
<circle cx="569.0" cy="143.5" r="2.4" fill="#c9531f"/>
<circle cx="574.0" cy="146.5" r="2.4" fill="#c9531f"/>
<circle cx="579.0" cy="148.5" r="2.4" fill="#c9531f"/>
<circle cx="583.9" cy="146.1" r="2.4" fill="#c9531f"/>
<circle cx="588.9" cy="147.9" r="2.4" fill="#c9531f"/>
<circle cx="593.9" cy="146.1" r="2.4" fill="#c9531f"/>
<circle cx="598.8" cy="143.8" r="2.4" fill="#c9531f"/>
<circle cx="603.8" cy="142.4" r="2.4" fill="#c9531f"/>
<circle cx="608.8" cy="144.2" r="2.4" fill="#c9531f"/>
<circle cx="613.7" cy="146.5" r="2.4" fill="#c9531f"/>
<circle cx="618.7" cy="138.1" r="2.4" fill="#c9531f"/>
<text x="431.5" y="135.9" font-family="Liberation Sans, sans-serif" font-size="14" fill="#231f20" text-anchor="end">75</text>
<text x="431.5" y="152.7" font-family="Liberation Sans, sans-serif" font-size="14" fill="#231f20" text-anchor="end">70</text>
<path d="M446.8,125.0 L441.2,131.6 L446.8,131.6" fill="none" stroke="#231f20" stroke-width="0.9"/>
<text x="447.4" y="131.9" font-family="Liberation Sans, sans-serif" font-size="10" fill="#231f20">23</text>
<line x1="435.6" y1="182.4" x2="637.6" y2="182.4" stroke="#3a3a3a" stroke-width="0.85" stroke-dasharray="1.6 1.0"/>
<line x1="435.6" y1="187.4" x2="637.6" y2="187.4" stroke="#3a3a3a" stroke-width="0.85" stroke-dasharray="1.6 1.0"/>
<line x1="435.6" y1="172.5" x2="439.6" y2="172.5" stroke="#555" stroke-width="0.9"/>
<line x1="435.6" y1="188.2" x2="439.6" y2="188.2" stroke="#555" stroke-width="0.9"/>
<line x1="450.1" y1="202.4" x2="450.1" y2="201.0" stroke="#444" stroke-width="0.9"/>
<line x1="464.5" y1="202.4" x2="464.5" y2="198.8" stroke="#8a8a8a" stroke-width="0.9"/>
<line x1="478.9" y1="202.4" x2="478.9" y2="201.0" stroke="#444" stroke-width="0.9"/>
<line x1="493.3" y1="202.4" x2="493.3" y2="198.8" stroke="#8a8a8a" stroke-width="0.9"/>
<line x1="507.7" y1="202.4" x2="507.7" y2="201.0" stroke="#444" stroke-width="0.9"/>
<line x1="522.1" y1="202.4" x2="522.1" y2="198.8" stroke="#8a8a8a" stroke-width="0.9"/>
<line x1="536.5" y1="202.4" x2="536.5" y2="201.0" stroke="#444" stroke-width="0.9"/>
<line x1="550.9" y1="202.4" x2="550.9" y2="198.8" stroke="#8a8a8a" stroke-width="0.9"/>
<line x1="565.3" y1="202.4" x2="565.3" y2="201.0" stroke="#444" stroke-width="0.9"/>
<line x1="579.7" y1="202.4" x2="579.7" y2="198.8" stroke="#8a8a8a" stroke-width="0.9"/>
<line x1="594.1" y1="202.4" x2="594.1" y2="201.0" stroke="#444" stroke-width="0.9"/>
<line x1="608.5" y1="202.4" x2="608.5" y2="198.8" stroke="#8a8a8a" stroke-width="0.9"/>
<line x1="622.9" y1="202.4" x2="622.9" y2="201.0" stroke="#444" stroke-width="0.9"/>
<circle cx="454.8" cy="180.1" r="2.4" fill="#1b63a6"/>
<circle cx="459.8" cy="177.1" r="2.4" fill="#1b63a6"/>
<circle cx="464.7" cy="175.3" r="2.4" fill="#1b63a6"/>
<circle cx="469.7" cy="176.0" r="2.4" fill="#1b63a6"/>
<circle cx="474.7" cy="172.9" r="2.4" fill="#1b63a6"/>
<circle cx="479.6" cy="172.3" r="2.4" fill="#1b63a6"/>
<circle cx="484.6" cy="170.7" r="2.4" fill="#1b63a6"/>
<circle cx="489.6" cy="168.4" r="2.4" fill="#1b63a6"/>
<circle cx="494.5" cy="169.5" r="2.4" fill="#1b63a6"/>
<circle cx="499.5" cy="172.5" r="2.4" fill="#1b63a6"/>
<circle cx="504.5" cy="172.9" r="2.4" fill="#1b63a6"/>
<circle cx="509.4" cy="178.1" r="2.4" fill="#1b63a6"/>
<circle cx="514.4" cy="181.7" r="2.4" fill="#1b63a6"/>
<circle cx="519.4" cy="182.0" r="2.4" fill="#1b63a6"/>
<circle cx="524.3" cy="181.8" r="2.4" fill="#1b63a6"/>
<circle cx="529.3" cy="180.8" r="2.4" fill="#1b63a6"/>
<circle cx="534.3" cy="182.7" r="2.4" fill="#1b63a6"/>
<circle cx="539.2" cy="182.5" r="2.4" fill="#1b63a6"/>
<circle cx="544.2" cy="184.9" r="2.4" fill="#1b63a6"/>
<circle cx="549.2" cy="184.9" r="2.4" fill="#1b63a6"/>
<circle cx="554.1" cy="183.7" r="2.4" fill="#1b63a6"/>
<circle cx="559.1" cy="180.6" r="2.4" fill="#1b63a6"/>
<circle cx="564.1" cy="177.1" r="2.4" fill="#1b63a6"/>
<circle cx="569.0" cy="175.7" r="2.4" fill="#1b63a6"/>
<circle cx="574.0" cy="175.6" r="2.4" fill="#1b63a6"/>
<circle cx="579.0" cy="173.6" r="2.4" fill="#1b63a6"/>
<circle cx="583.9" cy="171.7" r="2.4" fill="#1b63a6"/>
<circle cx="588.9" cy="168.1" r="2.4" fill="#1b63a6"/>
<circle cx="593.9" cy="170.7" r="2.4" fill="#1b63a6"/>
<circle cx="598.8" cy="172.8" r="2.4" fill="#1b63a6"/>
<circle cx="603.8" cy="175.0" r="2.4" fill="#1b63a6"/>
<circle cx="608.8" cy="174.8" r="2.4" fill="#1b63a6"/>
<circle cx="613.7" cy="168.4" r="2.4" fill="#1b63a6"/>
<circle cx="618.7" cy="178.6" r="2.4" fill="#1b63a6"/>
<text x="431.5" y="176.7" font-family="Liberation Sans, sans-serif" font-size="14" fill="#231f20" text-anchor="end">75</text>
<text x="431.5" y="193.5" font-family="Liberation Sans, sans-serif" font-size="14" fill="#231f20" text-anchor="end">70</text>
<path d="M446.8,165.8 L441.2,172.4 L446.8,172.4" fill="none" stroke="#231f20" stroke-width="0.9"/>
<text x="447.4" y="172.7" font-family="Liberation Sans, sans-serif" font-size="10" fill="#231f20">12</text>
<line x1="435.6" y1="0.45" x2="637.6" y2="0.45" stroke="#555" stroke-width="1.1"/>
<line x1="435.6" y1="40.7" x2="637.6" y2="40.7" stroke="#555" stroke-width="1.1"/>
<line x1="435.6" y1="81.3" x2="637.6" y2="81.3" stroke="#555" stroke-width="1.1"/>
<line x1="435.6" y1="121.4" x2="637.6" y2="121.4" stroke="#555" stroke-width="1.1"/>
<line x1="435.6" y1="162.2" x2="637.6" y2="162.2" stroke="#555" stroke-width="1.1"/>
<line x1="435.6" y1="202.4" x2="637.6" y2="202.4" stroke="#555" stroke-width="1.1"/>
<line x1="435.6" y1="0.45" x2="435.6" y2="202.4" stroke="#555" stroke-width="1.1"/>
<line x1="637.6" y1="0.45" x2="637.6" y2="202.4" stroke="#555" stroke-width="1.1"/>
<text x="450.1" y="216.8" font-family="Liberation Sans, sans-serif" font-size="14" fill="#231f20" text-anchor="middle">-6</text>
<text x="478.9" y="216.8" font-family="Liberation Sans, sans-serif" font-size="14" fill="#231f20" text-anchor="middle">-4</text>
<text x="507.7" y="216.8" font-family="Liberation Sans, sans-serif" font-size="14" fill="#231f20" text-anchor="middle">-2</text>
<text x="536.5" y="216.8" font-family="Liberation Sans, sans-serif" font-size="14" fill="#231f20" text-anchor="middle">0</text>
<text x="565.3" y="216.8" font-family="Liberation Sans, sans-serif" font-size="14" fill="#231f20" text-anchor="middle">2</text>
<text x="594.1" y="216.8" font-family="Liberation Sans, sans-serif" font-size="14" fill="#231f20" text-anchor="middle">4</text>
<text x="622.9" y="216.8" font-family="Liberation Sans, sans-serif" font-size="14" fill="#231f20" text-anchor="middle">6</text>
<text x="537" y="229" font-family="Liberation Sans, sans-serif" font-size="14" fill="#231f20" text-anchor="middle">Height (nm)</text>
<text transform="translate(411.6,100.9) rotate(-90)" font-family="Liberation Sans, sans-serif" font-size="14.2" textLength="135.5" lengthAdjust="spacingAndGlyphs" fill="#231f20" text-anchor="middle">Angle between TBs (°)</text>
<text x="397.3" y="16.2" font-family="Liberation Sans, sans-serif" font-size="20" font-weight="bold" fill="#231f20">d</text>
<rect x="436.5" y="240.8" width="201.29999999999995" height="159.3" fill="#fff"/>
<line x1="470.0" y1="240.8" x2="470.0" y2="400.1" stroke="#dcdcdc" stroke-width="0.9"/>
<line x1="503.5" y1="240.8" x2="503.5" y2="400.1" stroke="#dcdcdc" stroke-width="0.9"/>
<line x1="536.9" y1="240.8" x2="536.9" y2="400.1" stroke="#dcdcdc" stroke-width="0.9"/>
<line x1="570.3" y1="240.8" x2="570.3" y2="400.1" stroke="#dcdcdc" stroke-width="0.9"/>
<line x1="603.7" y1="240.8" x2="603.7" y2="400.1" stroke="#dcdcdc" stroke-width="0.9"/>
<line x1="436.5" y1="375.6" x2="637.8" y2="375.6" stroke="#dcdcdc" stroke-width="0.9"/>
<line x1="436.5" y1="375.6" x2="439.0" y2="375.6" stroke="#555" stroke-width="0.9"/>
<line x1="637.8" y1="375.6" x2="635.3" y2="375.6" stroke="#555" stroke-width="0.9"/>
<line x1="436.5" y1="351.3" x2="637.8" y2="351.3" stroke="#dcdcdc" stroke-width="0.9"/>
<line x1="436.5" y1="351.3" x2="439.0" y2="351.3" stroke="#555" stroke-width="0.9"/>
<line x1="637.8" y1="351.3" x2="635.3" y2="351.3" stroke="#555" stroke-width="0.9"/>
<line x1="436.5" y1="326.9" x2="637.8" y2="326.9" stroke="#dcdcdc" stroke-width="0.9"/>
<line x1="436.5" y1="326.9" x2="439.0" y2="326.9" stroke="#555" stroke-width="0.9"/>
<line x1="637.8" y1="326.9" x2="635.3" y2="326.9" stroke="#555" stroke-width="0.9"/>
<line x1="436.5" y1="302.6" x2="637.8" y2="302.6" stroke="#dcdcdc" stroke-width="0.9"/>
<line x1="436.5" y1="302.6" x2="439.0" y2="302.6" stroke="#555" stroke-width="0.9"/>
<line x1="637.8" y1="302.6" x2="635.3" y2="302.6" stroke="#555" stroke-width="0.9"/>
<line x1="436.5" y1="278.2" x2="637.8" y2="278.2" stroke="#dcdcdc" stroke-width="0.9"/>
<line x1="436.5" y1="278.2" x2="439.0" y2="278.2" stroke="#555" stroke-width="0.9"/>
<line x1="637.8" y1="278.2" x2="635.3" y2="278.2" stroke="#555" stroke-width="0.9"/>
<line x1="436.5" y1="253.9" x2="637.8" y2="253.9" stroke="#dcdcdc" stroke-width="0.9"/>
<line x1="436.5" y1="253.9" x2="439.0" y2="253.9" stroke="#555" stroke-width="0.9"/>
<line x1="637.8" y1="253.9" x2="635.3" y2="253.9" stroke="#555" stroke-width="0.9"/>
<text x="428.6" y="404.7" font-family="Liberation Sans, sans-serif" font-size="14" fill="#231f20" text-anchor="end">0</text>
<text x="428.6" y="380.3" font-family="Liberation Sans, sans-serif" font-size="14" fill="#231f20" text-anchor="end">1</text>
<text x="428.6" y="356.0" font-family="Liberation Sans, sans-serif" font-size="14" fill="#231f20" text-anchor="end">2</text>
<text x="428.6" y="331.6" font-family="Liberation Sans, sans-serif" font-size="14" fill="#231f20" text-anchor="end">3</text>
<text x="428.6" y="307.3" font-family="Liberation Sans, sans-serif" font-size="14" fill="#231f20" text-anchor="end">4</text>
<text x="428.6" y="282.9" font-family="Liberation Sans, sans-serif" font-size="14" fill="#231f20" text-anchor="end">5</text>
<text x="428.6" y="258.6" font-family="Liberation Sans, sans-serif" font-size="14" fill="#231f20" text-anchor="end">6</text>
<line x1="436.6" y1="400.1" x2="436.6" y2="396.6" stroke="#555" stroke-width="0.9"/>
<text x="436.6" y="415.8" font-family="Liberation Sans, sans-serif" font-size="14" fill="#231f20" text-anchor="middle">1.0</text>
<line x1="470.0" y1="400.1" x2="470.0" y2="396.6" stroke="#555" stroke-width="0.9"/>
<text x="470.0" y="415.8" font-family="Liberation Sans, sans-serif" font-size="14" fill="#231f20" text-anchor="middle">1.5</text>
<line x1="503.5" y1="400.1" x2="503.5" y2="396.6" stroke="#555" stroke-width="0.9"/>
<text x="503.5" y="415.8" font-family="Liberation Sans, sans-serif" font-size="14" fill="#231f20" text-anchor="middle">2.0</text>
<line x1="536.9" y1="400.1" x2="536.9" y2="396.6" stroke="#555" stroke-width="0.9"/>
<text x="536.9" y="415.8" font-family="Liberation Sans, sans-serif" font-size="14" fill="#231f20" text-anchor="middle">2.5</text>
<line x1="570.3" y1="400.1" x2="570.3" y2="396.6" stroke="#555" stroke-width="0.9"/>
<text x="570.3" y="415.8" font-family="Liberation Sans, sans-serif" font-size="14" fill="#231f20" text-anchor="middle">3.0</text>
<line x1="603.7" y1="400.1" x2="603.7" y2="396.6" stroke="#555" stroke-width="0.9"/>
<text x="603.7" y="415.8" font-family="Liberation Sans, sans-serif" font-size="14" fill="#231f20" text-anchor="middle">3.5</text>
<line x1="637.1" y1="400.1" x2="637.1" y2="396.6" stroke="#555" stroke-width="0.9"/>
<text x="637.1" y="415.8" font-family="Liberation Sans, sans-serif" font-size="14" fill="#231f20" text-anchor="middle">4.0</text>
<text x="537.2" y="431.8" font-family="Liberation Sans, sans-serif" font-size="13.8" fill="#231f20" text-anchor="middle">Standard error of twin angle (°)</text>
<text transform="translate(412.5,328) rotate(-90)" font-family="Liberation Sans, sans-serif" font-size="14" fill="#231f20" text-anchor="middle">GNAZ area (nm<tspan font-size="9.5" dy="-5">2</tspan><tspan dy="5">)</tspan></text>
<text x="397.3" y="248.9" font-family="Liberation Sans, sans-serif" font-size="18.5" font-weight="bold" fill="#231f20">e</text>
<circle cx="456.4" cy="254.8" r="3.45" fill="#c3e3ef" stroke="#2a2a2a" stroke-width="0.7"/>
<circle cx="462.9" cy="254.1" r="3.45" fill="#e0eff4" stroke="#2a2a2a" stroke-width="0.7"/>
<circle cx="486.3" cy="269.5" r="3.45" fill="#d5ecf2" stroke="#2a2a2a" stroke-width="0.7"/>
<circle cx="493.2" cy="265.3" r="3.45" fill="#e8f4f6" stroke="#2a2a2a" stroke-width="0.7"/>
<circle cx="493.9" cy="273.4" r="3.45" fill="#f7f7f7" stroke="#2a2a2a" stroke-width="0.7"/>
<circle cx="508.7" cy="269.9" r="3.45" fill="#faf0e4" stroke="#2a2a2a" stroke-width="0.7"/>
<circle cx="512.7" cy="274.0" r="3.45" fill="#f8d5b0" stroke="#2a2a2a" stroke-width="0.7"/>
<circle cx="479.4" cy="298.2" r="3.45" fill="#a8d4ea" stroke="#2a2a2a" stroke-width="0.7"/>
<circle cx="499.7" cy="301.7" r="3.45" fill="#8ec5e5" stroke="#2a2a2a" stroke-width="0.7"/>
<circle cx="565.1" cy="309.4" r="3.45" fill="#90c8ef" stroke="#2a2a2a" stroke-width="0.7"/>
<circle cx="459.0" cy="312.2" r="3.45" fill="#f0a458" stroke="#2a2a2a" stroke-width="0.7"/>
<circle cx="476.8" cy="316.8" r="3.45" fill="#f0a050" stroke="#2a2a2a" stroke-width="0.7"/>
<circle cx="488.2" cy="317.0" r="3.45" fill="#f09a50" stroke="#2a2a2a" stroke-width="0.7"/>
<circle cx="477.7" cy="326.9" r="3.45" fill="#f0a050" stroke="#2a2a2a" stroke-width="0.7"/>
<circle cx="481.1" cy="322.6" r="3.45" fill="#e88838" stroke="#2a2a2a" stroke-width="0.7"/>
<circle cx="508.5" cy="320.5" r="3.45" fill="#f8c890" stroke="#2a2a2a" stroke-width="0.7"/>
<circle cx="446.2" cy="337.0" r="3.45" fill="#2c3e6e" stroke="#2a2a2a" stroke-width="0.7"/>
<circle cx="488.7" cy="351.5" r="3.45" fill="#e88540" stroke="#2a2a2a" stroke-width="0.7"/>
<circle cx="507.5" cy="355.3" r="3.45" fill="#f09050" stroke="#2a2a2a" stroke-width="0.7"/>
<circle cx="504.2" cy="352.9" r="3.45" fill="#c82a20" stroke="#2a2a2a" stroke-width="0.7"/>
<circle cx="503.4" cy="354.5" r="3.45" fill="#e04020" stroke="#2a2a2a" stroke-width="0.7"/>
<circle cx="532.1" cy="353.9" r="3.45" fill="#ec7a3a" stroke="#2a2a2a" stroke-width="0.7"/>
<circle cx="544.7" cy="342.5" r="3.45" fill="#e02a20" stroke="#2a2a2a" stroke-width="0.7"/>
<circle cx="543.8" cy="345.9" r="3.45" fill="#d02020" stroke="#2a2a2a" stroke-width="0.7"/>
<circle cx="557.0" cy="358.2" r="3.45" fill="#ee8040" stroke="#2a2a2a" stroke-width="0.7"/>
<circle cx="488.4" cy="366.8" r="3.45" fill="#34497a" stroke="#2a2a2a" stroke-width="0.7"/>
<circle cx="518.8" cy="363.7" r="3.45" fill="#2a5ab0" stroke="#2a2a2a" stroke-width="0.7"/>
<circle cx="523.5" cy="363.0" r="3.45" fill="#3a65b5" stroke="#2a2a2a" stroke-width="0.7"/>
<circle cx="528.4" cy="369.5" r="3.45" fill="#f07a3a" stroke="#2a2a2a" stroke-width="0.7"/>
<circle cx="542.5" cy="369.9" r="3.45" fill="#3060b5" stroke="#2a2a2a" stroke-width="0.7"/>
<circle cx="554.7" cy="367.9" r="3.45" fill="#4070bc" stroke="#2a2a2a" stroke-width="0.7"/>
<circle cx="591.6" cy="369.8" r="3.45" fill="#6090d0" stroke="#2a2a2a" stroke-width="0.7"/>
<circle cx="611.8" cy="382.9" r="3.45" fill="#80b5e8" stroke="#2a2a2a" stroke-width="0.7"/>
<polyline points="446.4,261.4 456.1,271.9 464.1,281.6 472.2,290.7 480.2,299.3 488.3,307.3 496.3,314.5 504.4,321.8 510.7,327.6 516.5,332.2 522.2,336.8 528,340.9 533.7,344.7 539.5,348.3 545.2,351.8 551,355.2 556.7,358.4 562.5,361 570.7,364.3 581,368.1 591.4,371 601.7,373.6 611.8,375.4" fill="none" stroke="#808080" stroke-width="0.9" stroke-linejoin="round"/>
<path d="M436.5,240.8 L637.8,240.8 L637.8,400.1 L436.5,400.1 Z" fill="none" stroke="#555" stroke-width="1.1"/>
<defs><linearGradient id="cb" x1="0" y1="0" x2="0" y2="1"><stop offset="0" stop-color="#cc1f25"/><stop offset="0.12" stop-color="#dc4526"/><stop offset="0.25" stop-color="#e8772b"/><stop offset="0.37" stop-color="#f0a050"/><stop offset="0.47" stop-color="#fbe2c4"/><stop offset="0.5" stop-color="#f8f8f8"/><stop offset="0.58" stop-color="#e0eef0"/><stop offset="0.68" stop-color="#b8dcea"/><stop offset="0.75" stop-color="#8ac0e5"/><stop offset="0.82" stop-color="#3f78c0"/><stop offset="0.9" stop-color="#0f408f"/><stop offset="1" stop-color="#152a5e"/></linearGradient></defs>
<rect x="643.6" y="240.7" width="9" height="159.3" fill="url(#cb)"/>
<text x="658" y="252.5" font-family="Liberation Sans, sans-serif" font-size="14" fill="#231f20">5</text>
<text x="658" y="327" font-family="Liberation Sans, sans-serif" font-size="14" fill="#231f20">0</text>
<text x="657.6" y="400.6" font-family="Liberation Sans, sans-serif" font-size="14" fill="#231f20">-5</text>
<text transform="translate(676.5,318) rotate(90)" font-family="Liberation Sans, sans-serif" font-size="14" fill="#231f20" text-anchor="middle">Height (nm)</text>
</svg></body></html>
